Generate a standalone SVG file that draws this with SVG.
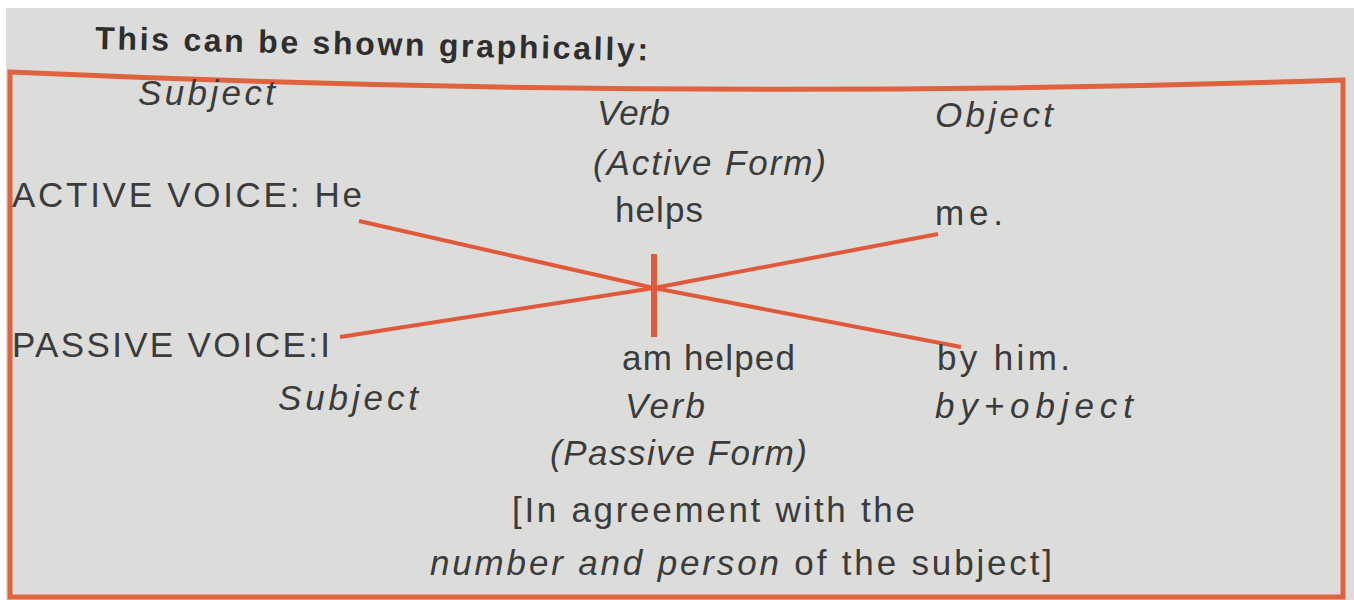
<svg xmlns="http://www.w3.org/2000/svg" width="1354" height="600" viewBox="0 0 1354 600">
<style>
.t{font-family:"Liberation Sans",Arial,sans-serif;font-size:35px;fill:#3b3b3b}
.i{font-style:italic}
.b{font-weight:bold;fill:#2e2e2e;font-size:32px}
.ln{stroke:#e0593a;stroke-width:4;fill:none;stroke-linecap:butt;stroke-linejoin:round}
.vt{stroke:#e0593a;stroke-width:6}
.frame{stroke:#e0623e;stroke-width:5;fill:none}
</style>
<rect x="0" y="0" width="1354" height="600" fill="#ffffff"/>
<rect x="6" y="8" width="1348" height="592" fill="#dcdddb"/>
<g id="title"><text class="t b" x="95" y="49" transform="rotate(1.2 95 49)" textLength="553" lengthAdjust="spacing">This can be shown graphically:</text></g>
<g id="frame"><path class="frame" d="M10,72 Q680,102 1343,80 L1343,597 L10,597 Z"/></g>
<g id="connectors">
<polyline class="ln" points="359,221 654,288 961,347"/>
<polyline class="ln" points="340,337 654,288 938,234"/>
<line class="vt" x1="654" y1="254" x2="654" y2="337"/>
</g>
<g id="subject-top"><text class="t i" x="138" y="105" textLength="137" lengthAdjust="spacing">Subject</text></g>
<g id="verb-top"><text class="t i" x="597" y="125" textLength="73" lengthAdjust="spacing">Verb</text></g>
<g id="active-form"><text class="t i" x="593" y="175" textLength="233" lengthAdjust="spacing">(Active Form)</text></g>
<g id="object-top"><text class="t i" x="935" y="127" textLength="118" lengthAdjust="spacing">Object</text></g>
<g id="active-voice"><text class="t" x="12" y="207" textLength="350" lengthAdjust="spacing">ACTIVE VOICE: He</text></g>
<g id="helps"><text class="t" x="615" y="222" textLength="88" lengthAdjust="spacing">helps</text></g>
<g id="me"><text class="t" x="935" y="225" textLength="68" lengthAdjust="spacing">me.</text></g>
<g id="passive-voice"><text class="t" x="12" y="357" textLength="318" lengthAdjust="spacing">PASSIVE VOICE:I</text></g>
<g id="am-helped"><text class="t" x="622" y="370" textLength="173" lengthAdjust="spacing">am helped</text></g>
<g id="by-him"><text class="t" x="937" y="370" textLength="133" lengthAdjust="spacing">by him.</text></g>
<g id="subject-bottom"><text class="t i" x="278" y="410" textLength="140" lengthAdjust="spacing">Subject</text></g>
<g id="verb-bottom"><text class="t i" x="625" y="418" textLength="80" lengthAdjust="spacing">Verb</text></g>
<g id="by-object"><text class="t i" x="935" y="418" textLength="198" lengthAdjust="spacing">by+object</text></g>
<g id="passive-form"><text class="t i" x="550" y="465" textLength="257" lengthAdjust="spacing">(Passive Form)</text></g>
<g id="agreement"><text class="t" x="512" y="522" textLength="403" lengthAdjust="spacing">[In agreement with the</text></g>
<g id="number-person"><text class="t" x="430" y="575" textLength="622" lengthAdjust="spacing"><tspan class="i">number and person</tspan> of the subject]</text></g>
</svg>
